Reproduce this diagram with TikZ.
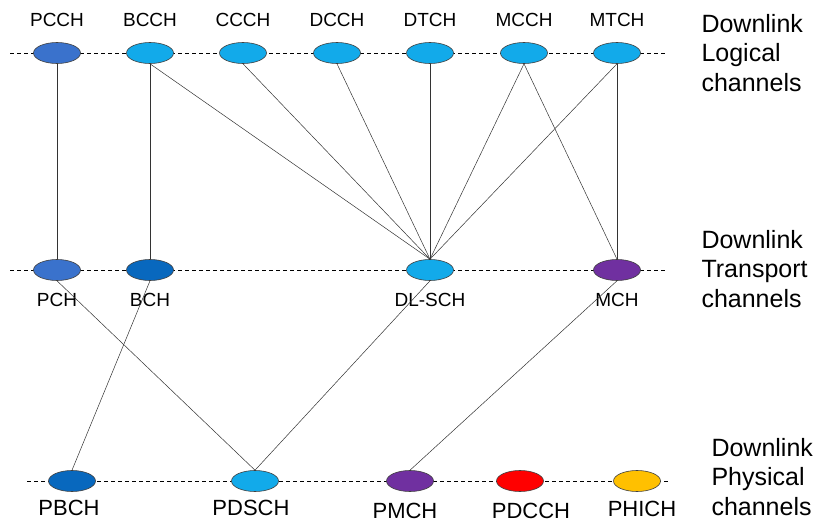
\documentclass[tikz,border=0pt]{standalone}
\usepackage{fontspec}
\setmainfont{Liberation Sans}
\usetikzlibrary{positioning,shapes.geometric}

\definecolor{chMid}{HTML}{3A72CC}
\definecolor{chLight}{HTML}{12AAEA}
\definecolor{chDark}{HTML}{0868BE}
\definecolor{chPurple}{HTML}{7030A0}
\definecolor{chRed}{HTML}{FF0000}
\definecolor{chAmber}{HTML}{FFC000}

\begin{document}
\begin{tikzpicture}[x=1pt, y=-1pt, font=\fontsize{19}{22}\selectfont,
    chan/.style={ellipse, draw=black!75, line width=0.6pt, inner sep=0pt,
      minimum width=47pt, minimum height=21pt},
    bus/.style={line width=0.8pt, dash pattern=on 4pt off 3pt},
    link/.style={line width=0.5pt, black!80},
    phy/.style={inner sep=1pt, font=\fontsize{22}{25}\selectfont},
    side/.style={anchor=west, align=left, font=\fontsize{25}{29.5}\selectfont}]

    % fixed frame of the page
    \useasboundingbox (0,0) rectangle (820,522);

    % --- the three dashed rows ---
    \coordinate (topL) at (10,53);   \coordinate (topR) at (665,53);
    \coordinate (midL) at (10,270);  \coordinate (midR) at (665,270);
    \coordinate (botL) at (27,481);  \coordinate (botR) at (668,481);
    \draw[bus] (topL) -- (topR);
    \draw[bus] (midL) -- (midR);
    \draw[bus] (botL) -- (botR);

    % --- logical channels (top row) ---
    \foreach \name/\x/\col in {PCCH/57/chMid, BCCH/150/chLight, CCCH/243/chLight,
        DCCH/337/chLight, DTCH/430/chLight, MCCH/524/chLight, MTCH/617/chLight} {
      \node[chan, fill=\col] (\name) at (\x,53) {};
      \node (t\name) at (\x,20) {\name};
    }

    % --- transport channels (middle row) ---
    \node[chan, fill=chMid] (PCH) at (57,270) {};
    \node[chan, fill=chDark] (BCH) at (150,270) {};
    \node[chan, fill=chLight] (DLSCH) at (430,270) {};
    \node[chan, fill=chPurple] (MCH) at (617,270) {};
    \node (tPCH) at (57,300) {PCH};
    \node (tBCH) at (150,300) {BCH};
    \node (tDLSCH) at (430,300) {DL-SCH};
    \node (tMCH) at (617,300) {MCH};

    % --- physical channels (bottom row) ---
    \node[chan, fill=chDark] (PBCH) at (72,481) {};
    \node[chan, fill=chLight] (PDSCH) at (255,481) {};
    \node[chan, fill=chPurple] (PMCH) at (410,481) {};
    \node[chan, fill=chRed] (PDCCH) at (520,481) {};
    \node[chan, fill=chAmber] (PHICH) at (637,481) {};
    \node[phy] (tPBCH) at (69,508) {PBCH};
    \node[phy] (tPDSCH) at (251,508) {PDSCH};
    \node[phy] (tPMCH) at (405,511) {PMCH};
    \node[phy] (tPDCCH) at (531,511) {PDCCH};
    \node[phy] (tPHICH) at (642,509) {PHICH};

    % --- mappings ---
    \draw[link] (PCCH.south) -- (PCH.north);
    \draw[link] (BCCH.south) -- (BCH.north);
    \foreach \src in {BCCH,CCCH,DCCH,DTCH,MCCH,MTCH}
      \draw[link] (\src.south) -- (DLSCH.north);
    \draw[link] (MCCH.south) -- (MCH.north);
    \draw[link] (MTCH.south) -- (MCH.north);
    \draw[link] (PCH.south) -- (PDSCH.north);
    \draw[link] (BCH.south) -- (PBCH.north);
    \draw[link] (DLSCH.south) -- (PDSCH.north);
    \draw[link] (MCH.south) -- (PMCH.north);

    % --- row captions ---
    \node[side] (capLog) at (698,53) {Downlink\\Logical\\channels};
    \node[side] (capTra) at (698,269) {Downlink\\Transport\\channels};
    \node[side] (capPhy) at (708,477) {Downlink\\Physical\\channels};

\end{tikzpicture}
\end{document}
